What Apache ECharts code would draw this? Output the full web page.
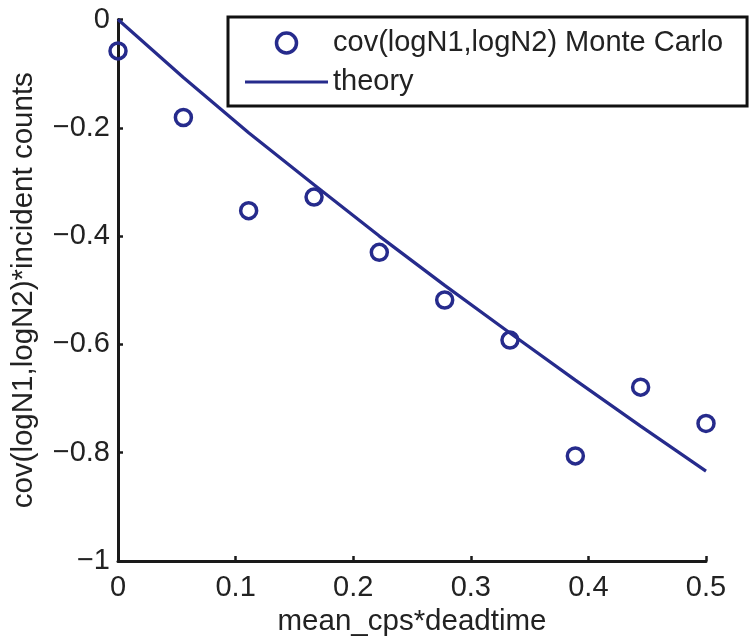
<!DOCTYPE html>
<html>
<head>
<meta charset="utf-8">
<script src="https://cdn.jsdelivr.net/npm/echarts@6/dist/echarts.min.js"></script>
<style>
  html, body { margin: 0; padding: 0; background: #fff; }
  #chart { width: 750px; height: 641px; }
</style>
</head>
<body>
<div id="chart"></div>
<script>
  // mean_cps*deadtime values
  const xValues = [0, 0.0556, 0.1111, 0.1667, 0.2222, 0.2778, 0.3333, 0.3889, 0.4444, 0.5]
  // Monte Carlo estimates
  const mcValues = [-0.058, -0.181, -0.353, -0.328, -0.430, -0.518, -0.592, -0.806, -0.679, -0.746]
  // theory curve
  const theoryValues = [0, -0.107, -0.209, -0.305, -0.400, -0.491, -0.579, -0.666, -0.751, -0.834]

  const xTicks = [0, 0.1, 0.2, 0.3, 0.4, 0.5]
  const yTicks = [-1, -0.8, -0.6, -0.4, -0.2, 0]

  const mcName = 'cov(logN1,logN2) Monte Carlo'
  const theoryName = 'theory'

  const blue = '#262b8c'
  const font = 'Liberation Sans, Arial, Helvetica, sans-serif'
  const textColor = '#222'

  const chart = echarts.init(document.getElementById('chart'), null, { renderer: 'canvas' })

  const fmt = v => {
    let s = String(Math.round(v * 10) / 10)
    return s.replace('-', '\u2212')
  }

  const option = {
    animation: false,
    backgroundColor: '#fff',
    grid: {
      left: 118,
      right: 44,
      top: 19.5,
      bottom: 80,
      containLabel: false,
      outerBoundsMode: 'none'
    },
    legend: {
      orient: 'vertical',
      left: 228,
      top: 17,
      padding: [11, 24, 9, 17],
      itemGap: 9,
      itemWidth: 83,
      itemHeight: 20,
      borderColor: '#111',
      borderWidth: 3,
      backgroundColor: '#fff',
      textStyle: { fontSize: 29, fontFamily: font, color: textColor, lineHeight: 30 },
      data: [
        {
          name: mcName,
          icon: 'circle',
          itemStyle: { color: '#fff', borderColor: blue, borderWidth: 3.5 }
        },
        {
          name: theoryName,
          icon: 'path://M0,0 L80,0 L80,3 L0,3 Z',
          itemStyle: { color: blue, borderWidth: 0 }
        }
      ]
    },
    xAxis: {
      type: 'value',
      min: 0,
      max: 0.5,
      interval: 0.1,
      name: 'mean_cps*deadtime',
      nameLocation: 'middle',
      nameGap: 44,
      nameTextStyle: { fontSize: 29.5, fontFamily: font, color: textColor },
      axisLine: { show: true, onZero: false, lineStyle: { color: '#1a1a1a', width: 3 } },
      axisTick: { show: true, inside: true, length: 5, lineStyle: { color: '#1a1a1a', width: 2.5 } },
      axisLabel: {
        margin: 12,
        fontSize: 29,
        fontFamily: font,
        color: textColor,
        formatter: v => xTicks.some(t => Math.abs(t - v) < 1e-9) ? fmt(v) : ''
      },
      splitLine: { show: false }
    },
    yAxis: {
      type: 'value',
      min: -1,
      max: 0,
      interval: 0.2,
      name: 'cov(logN1,logN2)*incident counts',
      nameLocation: 'middle',
      nameGap: 79,
      nameTextStyle: { fontSize: 29.5, fontFamily: font, color: textColor },
      axisLine: { show: true, onZero: false, lineStyle: { color: '#1a1a1a', width: 3 } },
      axisTick: { show: true, inside: true, length: 5, lineStyle: { color: '#1a1a1a', width: 2.5 } },
      axisLabel: {
        margin: 8,
        fontSize: 29,
        fontFamily: font,
        color: textColor,
        formatter: v => yTicks.some(t => Math.abs(t - v) < 1e-9) ? fmt(v) : ''
      },
      splitLine: { show: false }
    },
    series: [
      {
        name: theoryName,
        type: 'line',
        data: xValues.map((x, i) => [x, theoryValues[i]]),
        showSymbol: false,
        symbol: 'none',
        lineStyle: { color: blue, width: 3.2 },
        itemStyle: { color: blue },
        z: 2
      },
      {
        name: mcName,
        type: 'scatter',
        data: xValues.map((x, i) => [x, mcValues[i]]),
        symbol: 'circle',
        symbolSize: 16,
        itemStyle: { color: 'rgba(0,0,0,0)', borderColor: blue, borderWidth: 3.5, opacity: 1 },
        z: 3
      }
    ]
  }

  chart.setOption(option)
</script>
</body>
</html>
